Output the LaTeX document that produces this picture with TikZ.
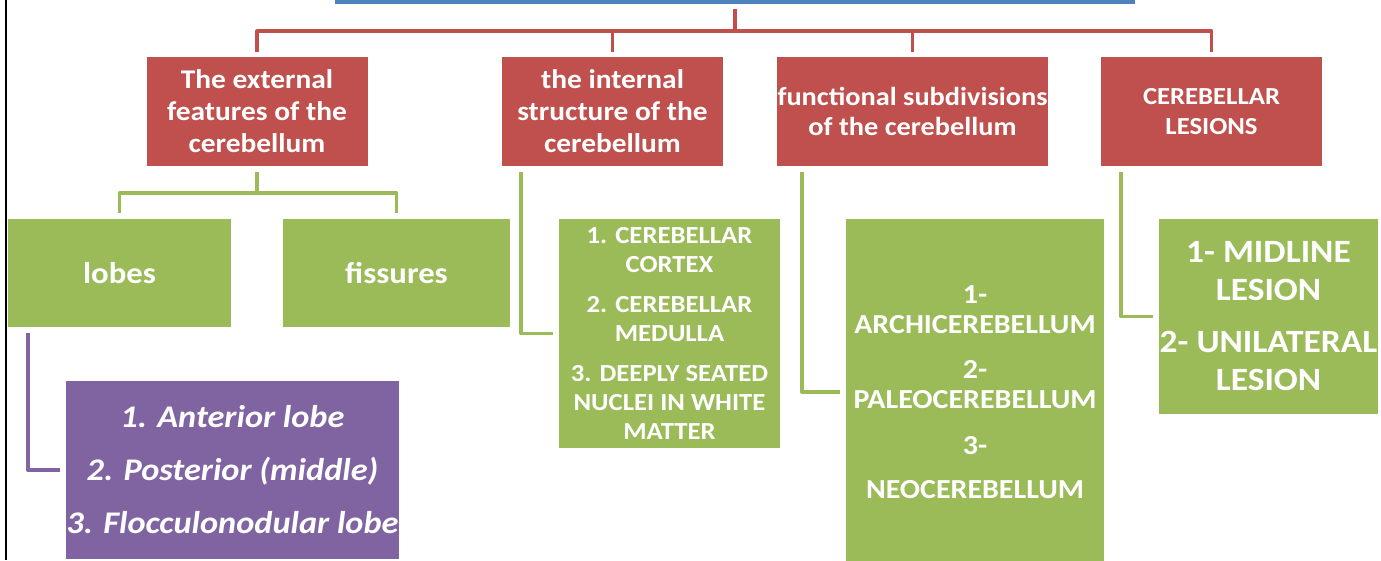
\documentclass[tikz,border=0pt]{standalone}
\usepackage{fontspec}
\setmainfont{Carlito}[FakeStretch=1.09]
\usepackage{tikz}
\definecolor{boxred}{RGB}{192,80,77}
\definecolor{boxgreen}{RGB}{155,187,89}
\definecolor{boxpurple}{RGB}{128,100,162}
\definecolor{barblue}{RGB}{79,129,189}

\begin{document}
\begin{tikzpicture}[x=1pt,y=-1pt,
    redbox/.style={fill=boxred,text=white,align=center,inner sep=0pt,minimum height=109pt,font=\fontsize{27}{32}\selectfont\bfseries},
    greenbox/.style={fill=boxgreen,text=white,align=center,inner sep=0pt},
    redline/.style={draw=boxred,line width=3.5pt,line join=round,shorten <=5pt,shorten >=5pt},
    greenline/.style={draw=boxgreen,line width=3.5pt,line join=round,shorten <=6pt,shorten >=6pt},
    purpleline/.style={draw=boxpurple,line width=3.5pt,line join=round,shorten <=6pt,shorten >=6pt}]
    \useasboundingbox (0,0) rectangle (1381,560);
    \draw[black,line width=2.5pt] (6,0) -- (6,560);

    \node[fill=barblue,inner sep=0pt,minimum width=800pt,minimum height=24pt] (title) at (735,-8) {};

    % first row
    \node[redbox,minimum width=221pt] (ext) at (257,111.5) {The external\\features of the\\cerebellum};
    \node[redbox,minimum width=221pt] (int) at (612.5,111.5) {the internal\\structure of the\\cerebellum};
    \node[redbox,minimum width=271pt,font=\fontsize{26}{30}\selectfont\bfseries] (func) at (912.5,111.5) {functional subdivisions\\of the cerebellum};
    \node[redbox,minimum width=221pt,font=\fontsize{24.5}{30}\selectfont\bfseries] (les) at (1211.5,111.5) {CEREBELLAR\\LESIONS};

    \draw[redline] (title.south) -- ++(0,27) -| (ext.north);
    \draw[redline] (title.south) -- ++(0,27) -| (int.north);
    \draw[redline] (title.south) -- ++(0,27) -| (func.north);
    \draw[redline] (title.south) -- ++(0,27) -| (les.north);

    % second row
    \node[greenbox,minimum width=223pt,minimum height=108pt,font=\fontsize{30}{32}\selectfont\bfseries] (lobes) at (119.5,273) {lobes};
    \node[greenbox,minimum width=227pt,minimum height=108pt,font=\fontsize{30}{32}\selectfont\bfseries] (fissures) at (396.5,273) {fissures};
    \node[greenbox,minimum width=221pt,minimum height=229pt,font=\fontsize{24.5}{29}\selectfont\bfseries] (intlist) at (669.5,333.5)
        {1. CEREBELLAR\\CORTEX\\[11pt]2. CEREBELLAR\\MEDULLA\\[11pt]3. DEEPLY SEATED\\NUCLEI IN WHITE\\MATTER};
    \node[greenbox,minimum width=258pt,minimum height=346pt,font=\fontsize{27.5}{30}\selectfont\bfseries] (funclist) at (975,392)
        {1-\\ARCHICEREBELLUM\\[15pt]2-\\PALEOCEREBELLUM\\[16pt]3-\\[14pt]NEOCEREBELLUM};
    \node[greenbox,minimum width=219pt,minimum height=195pt,font=\fontsize{32.5}{38}\selectfont\bfseries] (leslist) at (1268.5,316.5)
        {1- MIDLINE\\LESION\\[14pt]2- UNILATERAL\\LESION};

    \draw[greenline] (ext.south) -- ++(0,27) -| (lobes.north);
    \draw[greenline] (ext.south) -- ++(0,27) -| (fissures.north);
    \draw[greenline] ([xshift=19pt]int.south west) |- (intlist.west);
    \draw[greenline] ([xshift=25pt]func.south west) |- (funclist.west);
    \draw[greenline] ([xshift=20pt]les.south west) |- (leslist.west);

    % third row
    \node[fill=boxpurple,text=white,align=center,inner sep=0pt,minimum width=333pt,minimum height=178pt,font=\fontsize{31.5}{53}\selectfont\bfseries\itshape] (lobelist) at (232.5,470)
        {1. Anterior lobe\\2. Posterior (middle)\\3. Flocculonodular lobe};
    \draw[purpleline] ([xshift=20pt]lobes.south west) |- (lobelist.west);
\end{tikzpicture}
\end{document}
